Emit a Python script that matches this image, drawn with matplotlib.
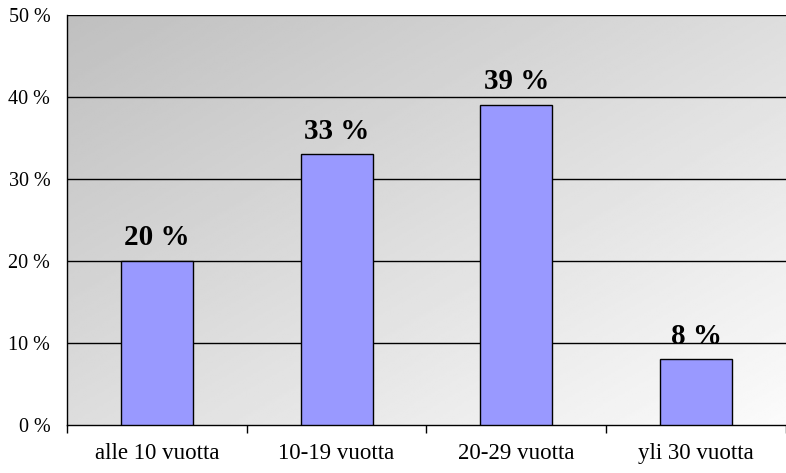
import numpy as np
import matplotlib.pyplot as plt

categories = ["alle 10 vuotta", "10-19 vuotta", "20-29 vuotta", "yli 30 vuotta"]
values = [20, 33, 39, 8]
y_ticks = [0, 10, 20, 30, 40, 50]

plt.rcParams["font.family"] = ["Liberation Serif", "DejaVu Serif"]

fig = plt.figure(figsize=(7.86, 4.73), dpi=100)
ax = fig.add_axes([0.0852, 0.1015, 0.9148, 0.8668])

# diagonal gray gradient background (dark top-left -> light bottom-right)
yy, xx = np.mgrid[0:1:200j, 0:1:300j]
t = (xx + yy) / 2.0  # row 0 is the top row with origin="upper"
img = 0.75 + (0.985 - 0.75) * t
ax.imshow(img, cmap="gray", vmin=0, vmax=1, extent=[0, 1, 0, 1],
          transform=ax.transAxes, aspect="auto", zorder=0, origin="upper")

x = np.arange(len(categories)) + 0.5
bars = ax.bar(x, values, width=0.4, color="#9999FF", edgecolor="black",
              linewidth=1, zorder=3)

for xi, v in zip(x, values):
    ax.annotate(f"{v} %", (xi, v), xytext=(0, 7), textcoords="offset points",
                ha="center", va="bottom", fontsize=21, fontweight="bold", zorder=4)

ax.set_xlim(0, len(categories))
ax.set_ylim(0, 50)
ax.set_yticks(y_ticks)
ax.set_yticklabels([f"{t} %" for t in y_ticks], fontsize=14.5)
ax.tick_params(axis="y", length=0, pad=12)

for t in y_ticks[1:]:
    ax.axhline(t, color="black", linewidth=1, zorder=2)

ax.set_xticks(np.arange(len(categories) + 1))
ax.set_xticklabels([])
ax.set_xticks(x, minor=True)
ax.set_xticklabels(categories, minor=True, fontsize=16.5)
ax.tick_params(axis="x", which="major", length=6, width=1, direction="out")
ax.tick_params(axis="x", which="minor", length=0, pad=13)

ax.spines["top"].set_visible(False)
ax.spines["right"].set_visible(False)
ax.spines["left"].set_linewidth(1)
ax.spines["bottom"].set_linewidth(1)

fig.savefig("out.png", dpi=100)
